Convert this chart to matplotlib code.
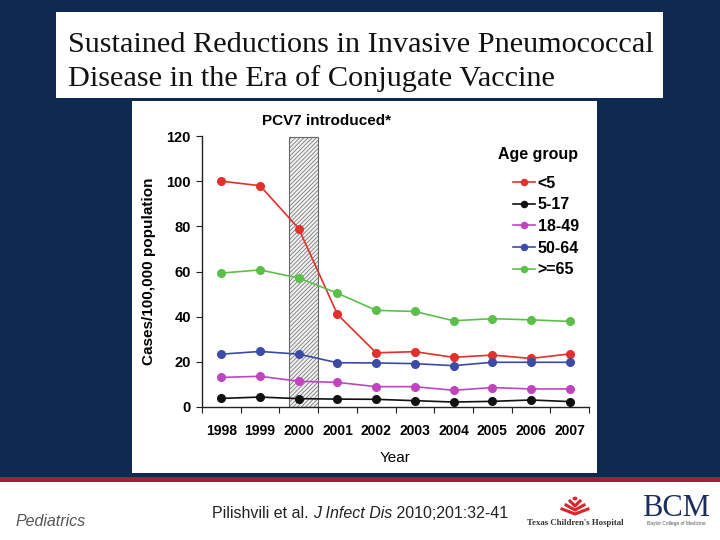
import matplotlib
matplotlib.use('Agg')
import matplotlib.pyplot as plt
import numpy as np
from matplotlib.patches import Rectangle, Circle
from matplotlib.lines import Line2D

# ---------------- data ----------------
years = ['1998', '1999', '2000', '2001', '2002', '2003', '2004', '2005', '2006', '2007']
age_lt5 = [100, 98, 79, 41, 24, 24.5, 22, 23, 21.5, 23.5]
age_5_17 = [3.8, 4.4, 3.7, 3.5, 3.4, 2.8, 2.2, 2.5, 3.1, 2.4]
age_18_49 = [13.1, 13.6, 11.4, 10.9, 9.0, 9.0, 7.4, 8.6, 8.0, 8.0]
age_50_64 = [23.4, 24.6, 23.4, 19.6, 19.5, 19.2, 18.3, 19.8, 19.8, 19.8]
age_ge65 = [59.3, 60.7, 57.1, 50.4, 42.8, 42.3, 38.2, 39.1, 38.6, 37.9]
series_labels = ['<5', '5-17', '18-49', '50-64', '>=65']
series_values = [age_lt5, age_5_17, age_18_49, age_50_64, age_ge65]
series_colors = ['#e2302c', '#111111', '#c044c0', '#3b4ba8', '#5cbf4a']
pcv7_year = '2000'
y_ticks = [0, 20, 40, 60, 80, 100, 120]

W, H = 720, 540
fig = plt.figure(figsize=(7.2, 5.4), dpi=100)
fig.patch.set_facecolor('white')

def fx(x):
    return x / W

def fy(y):
    return 1 - y / H

def rect(x0, y0, x1, y1, color, z=-5):
    fig.patches.append(Rectangle((fx(x0), fy(y1)), (x1 - x0) / W, (y1 - y0) / H,
                                 transform=fig.transFigure, facecolor=color,
                                 edgecolor='none', zorder=z))

navy = '#0e2a50'
rect(0, 0, 720, 477, navy)
rect(0, 477, 720, 482, '#a31d3d')
rect(56, 12, 663, 98, 'white', -4)
rect(132, 101, 597, 473, 'white', -4)

# title
fig.text(fx(68), fy(52), 'Sustained Reductions in Invasive Pneumococcal',
         family='Liberation Serif', fontsize=21.8, color='#111111', va='baseline', ha='left')
fig.text(fx(68), fy(86), 'Disease in the Era of Conjugate Vaccine',
         family='Liberation Serif', fontsize=21.8, color='#111111', va='baseline', ha='left')

# ---------------- chart ----------------
plt.rcParams['hatch.linewidth'] = 0.5
sans = 'Liberation Sans'
ax = fig.add_axes([fx(202), fy(407), (589 - 202) / W, (407 - 136) / H])
ax.set_facecolor('none')
x = np.arange(len(years))
xi = years.index(pcv7_year)
ax.bar(xi + 0.125, 119.5, width=0.75, color='#f0f0f0', edgecolor='#666666',
       hatch='////////', linewidth=0.8, zorder=1)

for vals, lab, col in zip(series_values, series_labels, series_colors):
    ax.plot(x, vals, color=col, lw=1.2, marker='o', markersize=5.5, label=lab, zorder=3,
            clip_on=False)

ax.set_xlim(-0.5, len(years) - 0.5)
ax.set_ylim(0, 120)
for s in ['top', 'right']:
    ax.spines[s].set_visible(False)
for s in ['left', 'bottom']:
    ax.spines[s].set_color('#222222')
    ax.spines[s].set_linewidth(1.0)

ax.set_xticks(np.arange(-0.5, len(years), 1))
ax.set_xticklabels([])
ax.set_xticks(x, minor=True)
ax.set_xticklabels(years, minor=True, fontsize=10, fontweight='bold', family=sans)
ax.tick_params(axis='x', which='major', length=4, direction='out', color='#222222')
ax.tick_params(axis='x', which='minor', length=0, pad=12)
ax.set_yticks(y_ticks)
ax.set_yticklabels([str(v) for v in y_ticks], fontsize=10.5, fontweight='bold', family=sans)
ax.tick_params(axis='y', length=4, direction='out', pad=4, color='#222222')

ax.set_ylabel('Cases/100,000 population', fontsize=11, fontweight='bold', family=sans)
ax.yaxis.set_label_coords(-0.118, 0.5)

fig.text(fx(395), fy(458), 'Year', fontsize=11, family=sans, ha='center', va='center')
fig.text(fx(327), fy(121), 'PCV7 introduced*', fontsize=11, fontweight='bold',
         family=sans, ha='center', va='center')

fig.text(fx(538), fy(154), 'Age group', fontsize=11.5, fontweight='bold',
         family=sans, ha='center', va='center')
leg = ax.legend(loc='upper left', bbox_to_anchor=(fx(513), fy(175.5)),
                bbox_transform=fig.transFigure, frameon=False,
                prop={'family': sans, 'weight': 'bold', 'size': 11.5},
                handlelength=1.4, handletextpad=0.15, labelspacing=0.42,
                markerscale=0.8, borderpad=0, borderaxespad=0)

# ---------------- footer ----------------
fig.text(fx(15), fy(521), 'Pediatrics', fontsize=11.5, style='italic', color='#555555',
         family=sans, va='center', ha='left')

fig.canvas.draw()
renderer = fig.canvas.get_renderer()
parts = [('Pilishvili et al. ', 'normal'), ('J Infect Dis', 'italic'), (' 2010;201:32-41', 'normal')]
xp = fx(212)
for txt, st in parts:
    t = fig.text(xp, fy(514), txt, fontsize=11.5, style=st, color='#222222',
                 family=sans, va='center', ha='left')
    bb = t.get_window_extent(renderer)
    xp += bb.width / fig.bbox.width

# Texas Children's Hospital logo (approximate)
red = '#d9252b'
fig.patches.append(Circle((fx(575), fy(498.5)), 2.5 / W, transform=fig.transFigure,
                          facecolor=red, edgecolor='none'))
for hw, yy in [(5, 503), (9, 507), (13, 511)]:
    fig.lines.append(Line2D([fx(575 - hw), fx(575), fx(575 + hw)],
                            [fy(yy - 2), fy(yy + 3), fy(yy - 2)],
                            transform=fig.transFigure, color=red, lw=2.2))
fig.text(fx(575), fy(523), "Texas Children's Hospital", fontsize=6.3, fontweight='bold',
         family='Liberation Serif', color='#333333', ha='center', va='center')
fig.text(fx(676), fy(508), 'BCM', fontsize=22, family='Liberation Serif', color='#1b2f5e',
         ha='center', va='center')
fig.text(fx(676), fy(524), 'Baylor College of Medicine', fontsize=3.5, family=sans,
         color='#555555', ha='center', va='center')

fig.savefig('out.png', dpi=100)
